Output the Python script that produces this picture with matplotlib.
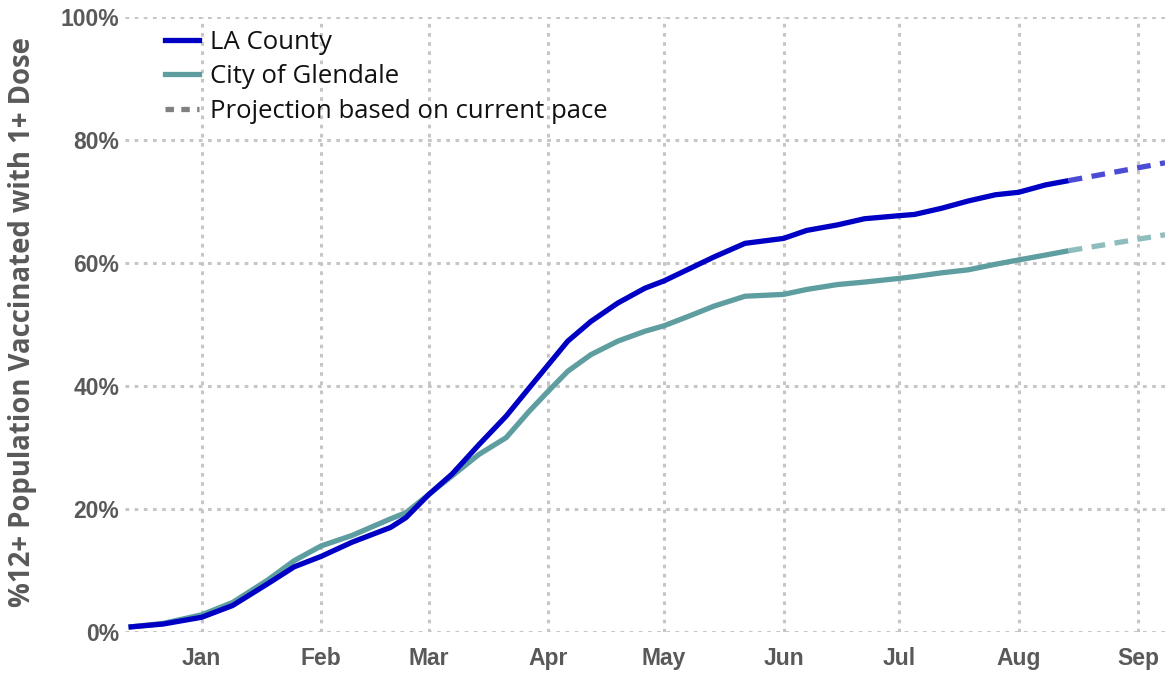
import matplotlib
matplotlib.use("Agg")
import matplotlib.pyplot as plt
import matplotlib.dates as mdates
from matplotlib.lines import Line2D
import datetime as dt

# ---- data ----
dates = ["2020-12-13", "2020-12-22", "2021-01-01", "2021-01-09", "2021-01-18", "2021-01-25",
         "2021-02-01", "2021-02-09", "2021-02-19", "2021-02-23", "2021-03-01", "2021-03-07",
         "2021-03-14", "2021-03-21", "2021-03-27", "2021-04-01", "2021-04-06", "2021-04-12",
         "2021-04-19", "2021-04-26", "2021-05-01", "2021-05-08", "2021-05-14", "2021-05-22",
         "2021-06-01", "2021-06-07", "2021-06-15", "2021-06-22", "2021-07-01", "2021-07-05",
         "2021-07-12", "2021-07-19", "2021-07-26", "2021-08-01", "2021-08-08", "2021-08-14"]
la_county = [0.8, 1.3, 2.4, 4.3, 7.8, 10.6,
             12.3, 14.6, 17.0, 18.6, 22.4, 25.7,
             30.5, 35.1, 39.7, 43.5, 47.3, 50.5,
             53.5, 55.9, 57.1, 59.2, 61.0, 63.2,
             64.0, 65.3, 66.2, 67.2, 67.7, 67.9,
             68.9, 70.1, 71.1, 71.5, 72.7, 73.4]
glendale = [0.8, 1.4, 2.8, 4.8, 8.4, 11.6,
            14.0, 15.7, 18.4, 19.4, 22.4, 25.4,
            28.9, 31.6, 35.9, 39.2, 42.4, 45.1,
            47.3, 48.9, 49.8, 51.5, 53.0, 54.6,
            54.9, 55.7, 56.5, 56.9, 57.5, 57.8,
            58.4, 58.9, 59.8, 60.5, 61.3, 62.0]
proj_dates = ["2021-08-14", "2021-09-08"]
la_proj = [73.4, 76.3]
glendale_proj = [62.0, 64.6]
yticks = [0, 20, 40, 60, 80, 100]
ytick_labels = ["0%", "20%", "40%", "60%", "80%", "100%"]
series_names = ["LA County", "City of Glendale", "Projection based on current pace"]
ylabel = "%12+ Population Vaccinated with 1+ Dose"

# ---- style ----
blue = "#0000c4"
teal = "#5f9ea0"
blue_proj = "#4b4bd6"
teal_proj = "#8fbdbd"
tick_color = "#595959"
grid_color = "#c6c6c6"

to_dt = lambda s: dt.datetime.strptime(s, "%Y-%m-%d")
x = [to_dt(d) for d in dates]
xp = [to_dt(d) for d in proj_dates]

fig = plt.figure(figsize=(11.65, 6.73), dpi=100)
ax = fig.add_axes([0.107, 0.0609, 0.893, 0.9138])

ax.plot(x, glendale, color=teal, lw=3.8, solid_capstyle="butt", solid_joinstyle="round", zorder=3)
ax.plot(x, la_county, color=blue, lw=3.8, solid_capstyle="butt", solid_joinstyle="round", zorder=4)
ax.plot(xp, la_proj, color=blue_proj, lw=3.8, ls=(0, (2.6, 1.8)), zorder=4)
ax.plot(xp, glendale_proj, color=teal_proj, lw=3.8, ls=(0, (2.6, 1.8)), zorder=3)

ax.set_xlim(to_dt("2020-12-12"), to_dt("2021-09-08"))
ax.set_ylim(0, 100)
ax.set_yticks(yticks)
ax.set_yticklabels(ytick_labels)
ax.xaxis.set_major_locator(mdates.MonthLocator(bymonth=range(1, 13)))
ax.xaxis.set_major_formatter(mdates.DateFormatter("%b"))

for lab in ax.get_xticklabels() + ax.get_yticklabels():
    lab.set_fontfamily(["Liberation Sans Narrow", "Liberation Sans", "DejaVu Sans"])
    lab.set_fontweight("bold")
    lab.set_fontsize(16.5)
    lab.set_color(tick_color)

ax.tick_params(axis="both", length=0)
ax.tick_params(axis="y", pad=4)
ax.tick_params(axis="x", pad=11)
for s in ax.spines.values():
    s.set_visible(False)
ax.grid(True, color=grid_color, lw=2.2, ls=(0, (1.2, 1.8)))
ax.set_axisbelow(True)

fig.text(0.019, 0.522, ylabel, rotation=90, ha="center", va="center",
         fontsize=19.8, fontweight="bold", color=tick_color,
         family=["Open Sans", "DejaVu Sans"])

handles = [Line2D([], [], color=blue, lw=3.8),
           Line2D([], [], color=teal, lw=3.8),
           Line2D([], [], color="#808080", lw=3.8, ls=(0, (1.6, 1.4)))]
leg = ax.legend(handles, series_names, loc="upper left", bbox_to_anchor=(0.029, 0.996),
                borderaxespad=0, frameon=False, handlelength=1.3, handletextpad=0.45,
                labelspacing=0.37,
                prop=dict(family=["Open Sans", "DejaVu Sans"], size=18.5))
for t in leg.get_texts():
    t.set_color("#111111")

fig.savefig("out.png", dpi=100, facecolor="white")
